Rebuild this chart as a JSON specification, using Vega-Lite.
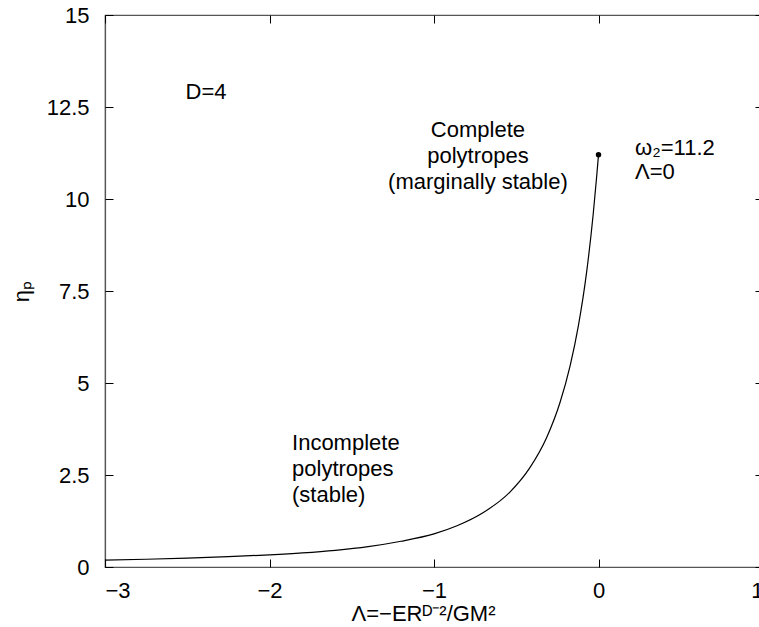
{
  "$schema": "https://vega.github.io/schema/vega-lite/v6.json",
  "autosize": "none",
  "padding": {"left": 105, "top": 15, "right": 0, "bottom": 60},
  "width": 658,
  "height": 552,
  "background": "white",
  "config": {
    "font": "Liberation Sans",
    "view": {"stroke": "#555", "strokeWidth": 1.2},
    "axis": {
      "domainColor": "#555",
      "domainWidth": 1.2,
      "tickColor": "black",
      "tickSize": 8,
      "tickWidth": 1,
      "grid": false,
      "zindex": 1,
      "labelFont": "Liberation Sans",
      "labelFontSize": 22,
      "labelColor": "black",
      "titleFont": "Liberation Sans",
      "titleFontSize": 22,
      "titleFontWeight": "normal",
      "titleColor": "black"
    },
    "text": {"font": "Liberation Sans", "fontSize": 22, "color": "black"}
  },
  "datasets": {
    "curve": [
      {"lambda": -3.0, "eta": 0.185},
      {"lambda": -2.75, "eta": 0.21},
      {"lambda": -2.5, "eta": 0.241},
      {"lambda": -2.25, "eta": 0.28},
      {"lambda": -2.0, "eta": 0.33},
      {"lambda": -1.8, "eta": 0.382},
      {"lambda": -1.6, "eta": 0.453},
      {"lambda": -1.4, "eta": 0.554},
      {"lambda": -1.2, "eta": 0.70},
      {"lambda": -1.0, "eta": 0.90},
      {"lambda": -0.86, "eta": 1.12},
      {"lambda": -0.7, "eta": 1.48},
      {"lambda": -0.54, "eta": 2.03},
      {"lambda": -0.42, "eta": 2.68},
      {"lambda": -0.315, "eta": 3.52},
      {"lambda": -0.234, "eta": 4.47},
      {"lambda": -0.173, "eta": 5.46},
      {"lambda": -0.123, "eta": 6.54},
      {"lambda": -0.072, "eta": 8.02},
      {"lambda": -0.032, "eta": 9.6},
      {"lambda": -0.011, "eta": 10.62},
      {"lambda": 0.0, "eta": 11.2}
    ],
    "endpoint": [{"lambda": 0.0, "eta": 11.2}],
    "centered": [
      {"lambda": -2.386, "eta": 12.9, "label": "D=4"},
      {"lambda": -0.733, "eta": 11.875, "label": "Complete\npolytropes\n(marginally stable)"}
    ],
    "lefttext": [
      {"lambda": -1.863, "eta": 3.37, "label": "Incomplete\npolytropes\n(stable)"},
      {"lambda": 0.222, "eta": 11.39, "label": "ω₂=11.2"},
      {"lambda": 0.222, "eta": 10.73, "label": "Λ=0"}
    ]
  },
  "layer": [
    {
      "data": {"name": "curve"},
      "mark": {"type": "line", "color": "black", "strokeWidth": 1.2, "interpolate": "monotone"},
      "encoding": {
        "x": {
          "field": "lambda", "type": "quantitative",
          "scale": {"domain": [-3, 1], "nice": false, "zero": false},
          "axis": {
            "orient": "bottom",
            "values": [-3, -2, -1, 0, 1],
            "ticks": false,
            "labelExpr": "datum.value < 0 ? '−' + abs(datum.value) : '' + datum.value",
            "labelPadding": 13,
            "title": "Λ=−ERᴰ⁻²/GM²",
            "titleX": 318,
            "titleY": 46,
            "titleAlign": "center",
            "titleBaseline": "middle"
          }
        },
        "y": {
          "field": "eta", "type": "quantitative",
          "scale": {"domain": [0, 15], "nice": false},
          "axis": {
            "orient": "left",
            "values": [0, 2.5, 5, 7.5, 10, 12.5, 15],
            "ticks": false,
            "labelExpr": "'' + datum.value",
            "labelPadding": 16,
            "title": "ηₚ",
            "titleX": -84,
            "titleY": 276,
            "titleAlign": "center",
            "titleBaseline": "middle",
            "titleAngle": -90
          }
        }
      }
    },
    {
      "data": {"name": "curve"},
      "mark": {"type": "line", "opacity": 0},
      "encoding": {
        "x": {
          "field": "lambda", "type": "quantitative",
          "axis": {"orient": "top", "offset": -552, "domain": false, "values": [-3, -2, -1, 0, 1], "labels": false, "title": null, "zindex": 2}
        },
        "y": {
          "field": "eta", "type": "quantitative",
          "axis": {"orient": "right", "offset": -658, "domain": false, "values": [0, 2.5, 5, 7.5, 10, 12.5, 15], "labels": false, "title": null, "zindex": 2}
        }
      }
    },
    {
      "data": {"name": "curve"},
      "mark": {"type": "line", "opacity": 0},
      "encoding": {
        "x": {
          "field": "lambda", "type": "quantitative",
          "axis": {"orient": "bottom", "offset": -552, "domain": false, "values": [-3, -2, -1, 0, 1], "labels": false, "title": null, "zindex": 2}
        },
        "y": {
          "field": "eta", "type": "quantitative",
          "axis": {"orient": "left", "offset": -658, "domain": false, "values": [0, 2.5, 5, 7.5, 10, 12.5, 15], "labels": false, "title": null, "zindex": 2}
        }
      }
    },
    {
      "data": {"name": "endpoint"},
      "mark": {"type": "point", "filled": true, "color": "black", "size": 30, "opacity": 1},
      "encoding": {
        "x": {"field": "lambda", "type": "quantitative", "axis": null},
        "y": {"field": "eta", "type": "quantitative", "axis": null}
      }
    },
    {
      "data": {"name": "centered"},
      "mark": {"type": "text", "align": "center", "baseline": "middle", "lineBreak": "\n", "lineHeight": 26},
      "encoding": {
        "x": {"field": "lambda", "type": "quantitative", "axis": null},
        "y": {"field": "eta", "type": "quantitative", "axis": null},
        "text": {"field": "label"}
      }
    },
    {
      "data": {"name": "lefttext"},
      "mark": {"type": "text", "align": "left", "baseline": "middle", "lineBreak": "\n", "lineHeight": 26},
      "encoding": {
        "x": {"field": "lambda", "type": "quantitative", "axis": null},
        "y": {"field": "eta", "type": "quantitative", "axis": null},
        "text": {"field": "label"}
      }
    }
  ],
  "resolve": {"axis": {"x": "independent", "y": "independent"}}
}
